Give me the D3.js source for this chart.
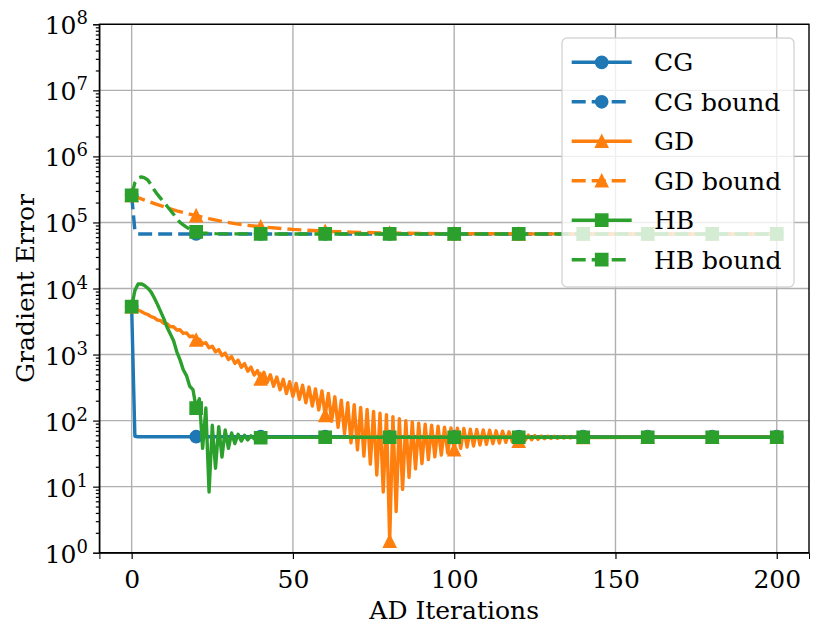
<!DOCTYPE html>
<html>
<head>
<meta charset="utf-8">
<script src="https://cdn.jsdelivr.net/npm/d3@7"></script>
<style>
  body { margin: 0; background: white; }
  svg text { font-family: "DejaVu Serif", "Liberation Serif", serif !important; fill: black; }
</style>
</head>
<body>
<div id="chart"></div>
<script>
'use strict';

// axis ticks
const iterTicks = [0, 50, 100, 150, 200];
const decadeExps = [0, 1, 2, 3, 4, 5, 6, 7, 8];

// gradient error per AD iteration
// dense arrays start at iteration 0, tails are [iteration, value] pairs
const cgDense = [5300, 58, 57];
const cgTail = [[20, 57], [40, 57], [60, 57], [80, 57], [100, 57], [120, 57],
                [140, 57], [160, 57], [180, 57], [200, 57]];

const cgBoundDense = [257000, 76000, 67000];
const cgBoundTail = [[20, 67000], [40, 67000], [60, 67000], [80, 67000], [100, 67000],
                     [120, 67000], [140, 67000], [160, 67000], [180, 67000], [200, 67000]];

const gdDense = [
  5300, 5010, 4720, 4490, 4200, 4040, 3740, 3630, 3330, 3260,
  2970, 2930, 2640, 2630, 2350, 2370, 2090, 2130, 1860, 1910,
  1660, 1710, 1450, 1515, 1265, 1340, 1100, 1187, 964, 1050,
  841, 930, 735, 823, 641, 729, 560, 645, 489, 571,
  427, 537, 376, 495, 331, 457, 292, 422, 257, 389,
  232, 366, 209, 343, 186, 322, 166, 302, 145, 282,
  120, 257, 98, 229, 79, 204, 63, 186, 46, 174,
  36, 158, 29, 148, 22, 138, 15, 129, 8.3, 123,
  1.5, 115, 4.2, 107, 9.1, 100, 13.8, 95.5, 18.6, 91,
  22.4, 88, 25.7, 85, 28.2, 82, 30.2, 79.4, 32.4, 77.6,
  36.3, 76.7, 38, 75.9, 39.8, 74.1, 41.2, 73.3, 42.7, 72.4,
  43.7, 71.6, 44.7, 70, 45.7, 69.2, 46.8, 67.6, 47.9, 66.1,
  49, 61.7, 50.1, 60.3, 51.3, 59.2, 52.2, 58.6, 53.1, 58.2,
  53.7, 57.8, 54.1, 57.5, 54.5, 57.3, 54.8, 56.9, 55.2, 56.6,
  55.5
];
const gdTail = [[160, 56], [180, 56], [200, 56]];

const gdBoundDense = [257000];
const gdBoundTail = [
  [2, 237000], [4, 218000], [6, 201000], [8, 186000], [10, 173000], [12, 161000],
  [14, 150000], [16, 142000], [18, 134000], [20, 127000], [24, 114000], [28, 104000],
  [32, 96000], [36, 90500], [40, 86000], [50, 78500], [60, 73500], [70, 70800],
  [80, 69200], [90, 68200], [100, 67600], [120, 67200], [140, 67000], [160, 67000],
  [180, 67000], [200, 67000]
];

const hbDense = [
  5300, 9300, 11700, 11750, 11100, 10100, 8900, 7240, 5750, 4470,
  3470, 2570, 2040, 1620, 1100, 830, 589, 480, 331, 295,
  155, 214, 38, 155, 8.3, 85, 19, 81, 28, 72,
  38, 65, 45, 62, 49, 60, 51, 59, 53, 58,
  55, 57, 55.6, 56.2, 56
];
const hbTail = [[60, 56], [80, 56], [100, 56], [120, 56], [140, 56],
                [160, 56], [180, 56], [200, 56]];

const hbBoundDense = [
  257000, 400000, 470000, 490000, 473000, 440000, 375000, 310000, 266000, 232000,
  202000, 176000, 153000, 133000, 115000, 100000, 92000, 85000, 79000, 75000,
  72000
];
const hbBoundTail = [[22, 69500], [24, 68300], [26, 67700], [30, 67200], [40, 67000],
                     [60, 67000], [80, 67000], [100, 67000], [120, 67000], [140, 67000],
                     [160, 67000], [180, 67000], [200, 67000]];

const seriesNames = ['CG', 'CG bound', 'GD', 'GD bound', 'HB', 'HB bound'];
const seriesColors = ['#1f77b4', '#1f77b4', '#ff7f0e', '#ff7f0e', '#2ca02c', '#2ca02c'];
const seriesDashed = [false, true, false, true, false, true];
const seriesMarkers = ['circle', 'circle', 'triangle', 'triangle', 'square', 'square'];

function joinSeries(dense, tail) {
  return dense.map((v, i) => [i, v]).concat(tail);
}

const seriesData = [
  joinSeries(cgDense, cgTail),
  joinSeries(cgBoundDense, cgBoundTail),
  joinSeries(gdDense, gdTail),
  joinSeries(gdBoundDense, gdBoundTail),
  joinSeries(hbDense, hbTail),
  joinSeries(hbBoundDense, hbBoundTail),
];

const svgWidth = 830, svgHeight = 640;
const margin = {top: 24.3, right: 21, bottom: 87.3, left: 99.4};
const plotW = svgWidth - margin.left - margin.right;
const plotH = svgHeight - margin.top - margin.bottom;
const markEvery = 20;
const markerSize = 12.2;
const lineWidth = 3.4;
const dashPattern = '14,6';
const fontSize = 25;
const supSize = 18;
const serif = '"DejaVu Serif", "Liberation Serif", serif';

const svg = d3.select('#chart')
              .append('svg')
                .attr('width', svgWidth)
                .attr('height', svgHeight);
svg.append('rect').attr('width', '100%').attr('height', '100%').attr('fill', 'white');

const x = d3.scaleLinear().domain([-10, 210]).range([0, plotW]);
const y = d3.scaleLog().domain([1, 1e8]).range([plotH, 0]);

const g = svg.append('g')
             .attr('transform', 'translate(' + margin.left + ',' + margin.top + ')');

svg.append('defs').append('clipPath').attr('id', 'plot-clip')
   .append('rect').attr('width', plotW).attr('height', plotH);

// grid
const grid = g.append('g').attr('class', 'grid');
grid.selectAll('line.vx').data(iterTicks).enter().append('line')
    .attr('x1', d => x(d)).attr('x2', d => x(d))
    .attr('y1', 0).attr('y2', plotH)
    .attr('stroke', '#b0b0b0').attr('stroke-width', 1.4);
grid.selectAll('line.hy').data(decadeExps).enter().append('line')
    .attr('y1', d => y(Math.pow(10, d))).attr('y2', d => y(Math.pow(10, d)))
    .attr('x1', 0).attr('x2', plotW)
    .attr('stroke', '#b0b0b0').attr('stroke-width', 1.4);

function markerPath(kind, s) {
  const h = s / 2;
  if (kind === 'circle') {
    return d3.arc()({innerRadius: 0, outerRadius: h, startAngle: 0, endAngle: 2 * Math.PI});
  }
  if (kind === 'square') {
    return 'M' + (-h) + ',' + (-h) + 'H' + h + 'V' + h + 'H' + (-h) + 'Z';
  }
  return 'M0,' + (-h) + 'L' + h + ',' + h + 'L' + (-h) + ',' + h + 'Z';
}

// series
const line = d3.line().x(d => x(d[0])).y(d => y(d[1]));
const dataLayer = g.append('g').attr('clip-path', 'url(#plot-clip)');
seriesData.forEach((data, i) => {
  const sg = dataLayer.append('g');
  sg.append('path')
    .datum(data)
    .attr('d', line)
    .attr('fill', 'none')
    .attr('stroke', seriesColors[i])
    .attr('stroke-width', lineWidth)
    .attr('stroke-linejoin', 'round')
    .attr('stroke-dasharray', seriesDashed[i] ? dashPattern : null);
  sg.selectAll('path.mk')
    .data(data.filter(d => d[0] % markEvery === 0))
    .enter().append('path')
      .attr('class', 'mk')
      .attr('d', markerPath(seriesMarkers[i], markerSize))
      .attr('transform', d => 'translate(' + x(d[0]) + ',' + y(d[1]) + ')')
      .attr('fill', seriesColors[i])
      .attr('stroke', seriesColors[i])
      .attr('stroke-width', 1.5);
});

// axes
const xAxis = g.append('g')
               .attr('transform', 'translate(0,' + plotH + ')')
               .call(d3.axisBottom(x).tickValues(iterTicks).tickSize(6.3).tickPadding(6));
xAxis.attr('font-family', serif);
xAxis.selectAll('text').attr('font-size', fontSize).attr('dy', null).attr('y', 35);

const minorTicks = [];
decadeExps.slice(0, -1).forEach(e => {
  for (let m = 2; m <= 9; m++) minorTicks.push(m * Math.pow(10, e));
});
const yMinor = g.append('g')
                .call(d3.axisLeft(y).tickValues(minorTicks).tickSize(3.6).tickFormat(''));
yMinor.select('.domain').remove();

const yAxis = g.append('g')
               .call(d3.axisLeft(y).tickValues(decadeExps.map(e => Math.pow(10, e)))
                                  .tickSize(6.3).tickFormat(''));
yAxis.attr('font-family', serif);
yAxis.selectAll('.tick').each(function(d) {
  const t = d3.select(this).append('text')
              .attr('x', -11.5).attr('y', 9.5)
              .attr('text-anchor', 'end')
              .attr('font-size', fontSize)
              .attr('fill', 'black');
  t.append('tspan').text('10');
  t.append('tspan').attr('font-size', supSize).attr('dy', -10).text(Math.round(Math.log10(d)));
});

[xAxis, yMinor, yAxis].forEach(a => {
  a.selectAll('line').attr('stroke', 'black').attr('stroke-width', 1.2);
});

// frame
g.append('rect').attr('width', plotW).attr('height', plotH)
 .attr('fill', 'none').attr('stroke', 'black').attr('stroke-width', 1.4);

// axis labels
svg.append('text')
   .attr('x', margin.left + plotW / 2).attr('y', 619)
   .attr('text-anchor', 'middle').attr('font-size', fontSize)
   .attr('font-family', serif)
   .text('AD Iterations');
svg.append('text')
   .attr('transform', 'translate(34,' + (margin.top + plotH / 2) + ') rotate(-90)')
   .attr('text-anchor', 'middle').attr('font-size', fontSize)
   .attr('font-family', serif)
   .text('Gradient Error');

// legend
const legend = svg.append('g').attr('transform', 'translate(562,38)');
legend.append('rect')
      .attr('width', 232).attr('height', 249).attr('rx', 5)
      .attr('fill', 'white').attr('fill-opacity', 0.8)
      .attr('stroke', '#cccccc').attr('stroke-opacity', 0.8).attr('stroke-width', 1.4);
const rowY = d3.scalePoint().domain(seriesNames).range([24.3, 221.7]);
seriesNames.forEach((name, i) => {
  const row = legend.append('g').attr('transform', 'translate(0,' + rowY(name) + ')');
  row.append('line')
     .attr('x1', 9.7).attr('x2', 69.7)
     .attr('stroke', seriesColors[i]).attr('stroke-width', lineWidth)
     .attr('stroke-dasharray', seriesDashed[i] ? dashPattern : null);
  row.append('path')
     .attr('d', markerPath(seriesMarkers[i], markerSize))
     .attr('transform', 'translate(39.7,0)')
     .attr('fill', seriesColors[i]).attr('stroke', seriesColors[i]).attr('stroke-width', 1.5);
  row.append('text')
     .attr('x', 92).attr('y', 9)
     .attr('font-size', fontSize)
     .attr('font-family', serif)
     .text(name);
});
</script>
</body>
</html>
